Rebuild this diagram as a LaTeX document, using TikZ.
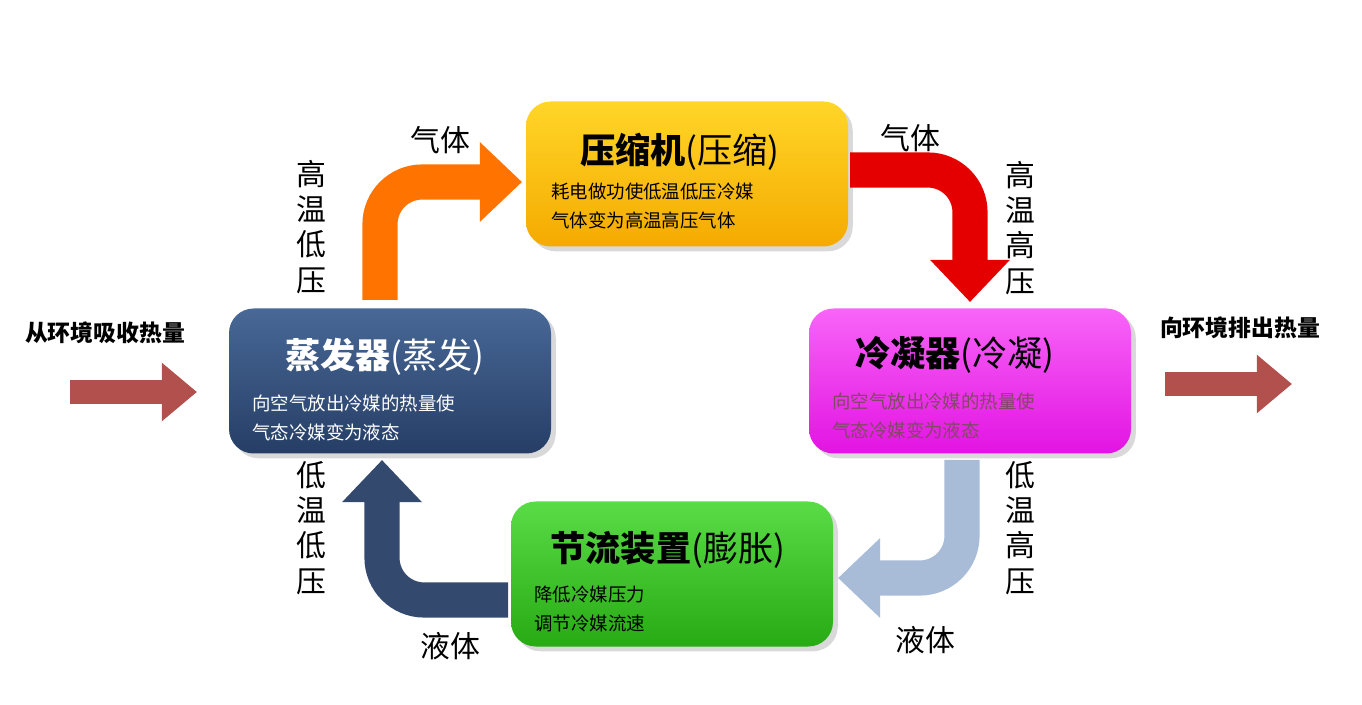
\documentclass[tikz,border=0pt]{standalone}
\usepackage{fontspec}
\setmainfont{Noto Sans CJK SC}
\usetikzlibrary{arrows.meta,shadows}
\definecolor{evtop}{RGB}{72,104,150}
\definecolor{evbot}{RGB}{38,62,102}
\definecolor{lblue}{RGB}{168,188,216}
\definecolor{dblue}{RGB}{52,73,110}
\definecolor{sidec}{RGB}{178,80,78}
\definecolor{ytop}{RGB}{255,214,40}
\definecolor{ybot}{RGB}{245,170,0}
\definecolor{mtop}{RGB}{248,100,248}
\definecolor{mbot}{RGB}{226,20,226}
\definecolor{gtop}{RGB}{90,220,70}
\definecolor{gbot}{RGB}{40,170,20}
\tikzset{
 box/.style={rounded corners=14pt,minimum width=322*0.02cm,minimum height=145*0.02cm,drop shadow={opacity=0.3},draw=none},
 ttl/.style={font=\fontsize{20}{22}\selectfont},
 sub/.style={font=\fontsize{10.5}{16}\selectfont,align=left,anchor=west},
 lbl/.style={font=\fontsize{17}{20}\selectfont,align=center,inner sep=0},
 big/.style={line width=20pt,rounded corners=24pt,-{Triangle[width=44pt,length=24pt]}},
 side/.style={line width=14pt,-{Triangle[width=32pt,length=20pt]}}
}
\begin{document}
\begin{tikzpicture}[x=0.02cm,y=-0.02cm]
\useasboundingbox (0,0) rectangle (1362,705);
\node[box,top color=ytop,bottom color=ybot] (comp) at (687,174) {};
\node[box,top color=mtop,bottom color=mbot] (cond) at (970,381) {};
\node[box,top color=evtop,bottom color=evbot] (evap) at (390,381) {};
\node[box,top color=gtop,bottom color=gbot] (thr) at (672,574) {};
% titles
\node[ttl] (t1) at (680,152) {\textbf{压缩机}(压缩)};
\node[sub] (s1) at (545,206) {耗电做功使低温低压冷媒\\气体变为高温高压气体};
\node[ttl,text=black] (t2) at (955,355) {\textbf{冷凝器}(冷凝)};
\node[sub,text=magenta!45!black] (s2) at (826,416) {向空气放出冷媒的热量使\\气态冷媒变为液态};
\node[ttl,text=white] (t3) at (385,357) {\textbf{蒸发器}(蒸发)};
\node[sub,text=white] (s3) at (246,418) {向空气放出冷媒的热量使\\气态冷媒变为液态};
\node[ttl] (t4) at (668,550) {\textbf{节流装置}(膨胀)};
\node[sub] (s4) at (528,609) {降低冷媒压力\\调节冷媒流速};
% cycle arrows
\coordinate (a1) at (380,300); \coordinate (a1e) at (522,182);
\draw[big,color=orange!90!red] (a1) -- (380,182) -- (a1e);
\coordinate (b1) at (850,170); \coordinate (b1e) at (970,302);
\draw[big,color=red!90!black] (b1) -- (970,170) -- (b1e);
\coordinate (c1) at (962,460); \coordinate (c1e) at (838,578);
\draw[big,color=lblue] (c1) -- (962,578) -- (c1e);
\coordinate (d1) at (508,600); \coordinate (d1e) at (382,460);
\draw[big,color=dblue] (d1) -- (382,600) -- (d1e);
% side arrows
\coordinate (l1) at (70,392); \coordinate (l2) at (197,392);
\draw[side,color=sidec] (l1) -- (l2);
\coordinate (r1) at (1165,384); \coordinate (r2) at (1292,384);
\draw[side,color=sidec] (r1) -- (r2);
% labels
\node[lbl] (v1) at (311,227) {高\\温\\低\\压};
\node[lbl] (g1) at (440,140) {气体};
\node[lbl] (g2) at (910,138) {气体};
\node[lbl] (v2) at (1020,228) {高\\温\\高\\压};
\node[lbl] (v3) at (1020,528) {低\\温\\高\\压};
\node[lbl] (y1) at (925,640) {液体};
\node[lbl] (v4) at (311,528) {低\\温\\低\\压};
\node[lbl] (y2) at (450,646) {液体};
\node[font=\fontsize{13}{15}\selectfont\bfseries] (in) at (105,333) {从环境吸收热量};
\node[font=\fontsize{13}{15}\selectfont\bfseries] (out) at (1240,328) {向环境排出热量};
\end{tikzpicture}
\end{document}
